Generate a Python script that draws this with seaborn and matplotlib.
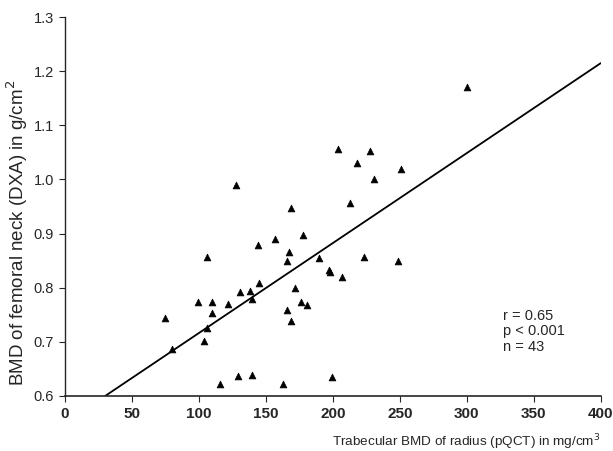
import numpy as np
import pandas as pd
import seaborn as sns
import matplotlib.pyplot as plt

# Trabecular BMD of radius (pQCT), mg/cm3
radius_bmd = [75, 80, 106, 99, 110, 110, 106, 104, 122, 131, 138, 145, 140,
              116, 129, 140, 163, 166, 169, 166, 167, 172, 128, 204, 228, 218,
              251, 231, 213, 169, 178, 144, 157, 190, 223, 249, 197, 198, 207,
              176, 181, 199, 300]
# BMD of femoral neck (DXA), g/cm2
neck_bmd = [0.745, 0.687, 0.857, 0.774, 0.774, 0.753, 0.726, 0.702, 0.770,
            0.792, 0.794, 0.809, 0.779, 0.622, 0.637, 0.639, 0.622, 0.759,
            0.739, 0.850, 0.866, 0.800, 0.990, 1.057, 1.053, 1.031, 1.020,
            1.001, 0.957, 0.948, 0.898, 0.879, 0.890, 0.855, 0.857, 0.850,
            0.833, 0.829, 0.820, 0.774, 0.768, 0.635, 1.171]

# regression line as printed in the figure
fit_x = [30, 400]
fit_y = [0.600, 1.215]

x_ticks = [0, 50, 100, 150, 200, 250, 300, 350, 400]
y_ticks = [0.6, 0.7, 0.8, 0.9, 1.0, 1.1, 1.2, 1.3]

df = pd.DataFrame({"radius": radius_bmd, "neck": neck_bmd})
fit = pd.DataFrame({"x": fit_x, "y": fit_y})

sns.set_style("ticks")
plt.rcParams['font.family'] = ['Liberation Sans', 'DejaVu Sans']

fig = plt.figure(figsize=(6.13, 4.51), dpi=100)
ax = fig.add_axes([0.106, 0.122, 0.874, 0.840])

sns.lineplot(data=fit, x="x", y="y", color="black", linewidth=1.3, ax=ax)
sns.scatterplot(data=df, x="radius", y="neck", marker="^", s=24,
                color="black", edgecolor="black", linewidth=0.5, ax=ax)

ax.set_xlim(0, 400)
ax.set_ylim(0.6, 1.3)
ax.set_xticks(x_ticks)
ax.set_yticks(y_ticks)
ax.set_xticklabels([str(t) for t in x_ticks], fontweight="bold", fontsize=11)
ax.set_yticklabels(["%.1f" % t for t in y_ticks], fontsize=10.5)
ax.tick_params(axis="both", direction="out", length=4, width=0.8, pad=4)
for s in ["top", "right"]:
    ax.spines[s].set_visible(False)
ax.spines["left"].set_linewidth(1.0)
ax.spines["bottom"].set_linewidth(1.2)
ax.set_xlabel("Trabecular BMD of radius (pQCT) in mg/cm$^3$", fontsize=9.7,
              loc="right", labelpad=8)
ax.set_ylabel("BMD of femoral neck (DXA) in g/cm$^2$", fontsize=13.5)
ax.yaxis.set_label_coords(-0.066, 0.43)

ax.text(0.817, 0.23, "r = 0.65\np < 0.001\nn = 43", transform=ax.transAxes,
        fontsize=10.5, ha="left", va="top", linespacing=1.15)

fig.savefig("out.png", dpi=100)
